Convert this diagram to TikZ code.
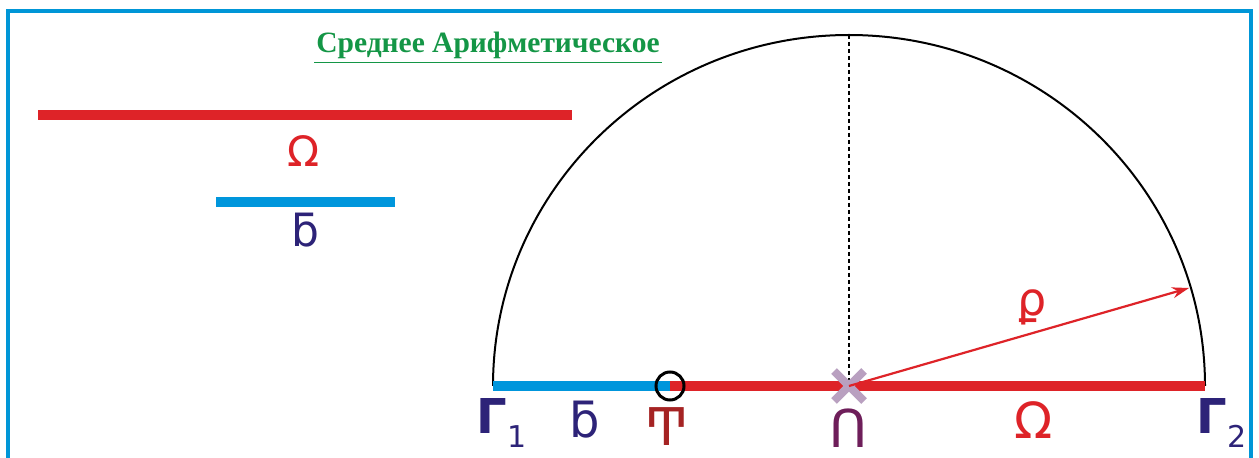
\documentclass[tikz,border=0pt]{standalone}
\usepackage{fontspec}
\setmainfont{Liberation Serif}
\newfontfamily\gl{DejaVu Sans}
\newfontfamily\glb{DejaVu Sans Bold}
\usetikzlibrary{arrows.meta,calc}
\definecolor{frameblue}{RGB}{0,150,215}
\definecolor{barred}{RGB}{222,35,40}
\definecolor{barblue}{RGB}{0,150,220}
\definecolor{navyc}{RGB}{45,35,120}
\definecolor{darkredc}{RGB}{165,35,35}
\definecolor{purplec}{RGB}{110,30,90}
\definecolor{titlegreen}{RGB}{20,150,70}
\definecolor{crossc}{RGB}{185,160,192}
\tikzset{
  redbar/.style={draw=barred,line width=10.5pt},
  bluebar/.style={draw=barblue,line width=10.5pt},
  glyph/.style={inner sep=0pt,font=\gl},
  arcline/.style={draw=black,line width=2pt},
}
\begin{document}
\begin{tikzpicture}[x=1pt,y=1pt]
\useasboundingbox (0,0) rectangle (1259,458);
\fill[white] (0,0) rectangle (1259,458);
% frame
\draw[frameblue,line width=3.5pt] (8,-5) -- (8,447) -- (1251,447) -- (1251,-5);
% title
\node[inner sep=0pt,text=titlegreen,font=\fontsize{29.5}{30}\selectfont\bfseries] (title) at (488,413) {Среднее Арифметическое};
\draw[titlegreen,line width=1.5pt] ($(title.south west)+(-2,-4)$) -- ($(title.south east)+(2,-4)$);
% left bars
\coordinate (a1) at (38,343);
\coordinate (a2) at (572,343);
\draw[redbar] (a1) -- (a2);
\node[glyph,text=barred,font=\gl\fontsize{42}{42}\selectfont] (atop) at (304,307) {Ω};
\coordinate (b1) at (216,256);
\coordinate (b2) at (395,256);
\draw[bluebar] (b1) -- (b2);
\node[glyph,text=navyc,font=\gl\fontsize{44}{44}\selectfont] (btop) at (305,228) {ƃ};
% semicircle construction
\coordinate (C) at (849,72);
\coordinate (G1) at (493,72);
\coordinate (G2) at (1205,72);
\coordinate (T) at (670,72);
\coordinate (Top) at (849,423);
\coordinate (R) at (1189,170);
\draw[arcline] (G1) arc[start angle=180,end angle=0,x radius=356,y radius=351];
\draw[black,line width=1.6pt,dash pattern=on 4pt off 3pt] (Top) -- (C);
\draw[bluebar,line cap=butt] (G1) -- (T);
\draw[redbar,line cap=butt] (T) -- (G2);
\draw[black,line width=3pt] (T) circle[radius=14];
\draw[crossc,line width=8pt] ($(C)+(-15,-15)$) -- ($(C)+(15,15)$);
\draw[crossc,line width=8pt] ($(C)+(-15,15)$) -- ($(C)+(15,-15)$);
\draw[barred,line width=2.2pt,-{Stealth[length=17pt,width=11pt]}] (C) -- (R);
\node[glyph,text=barred,font=\gl\fontsize{46}{46}\selectfont] (rho) at (1032,151) {ϼ};
% bottom labels
\node[glyph,text=navyc,font=\glb\fontsize{48}{48}\selectfont] (g1) at (502,35) {Γ\textsubscript{\gl\fontsize{30}{30}\selectfont 1}};
\node[glyph,text=navyc,font=\gl\fontsize{48}{48}\selectfont] (bbot) at (585,38) {ƃ};
\node[glyph,text=darkredc,font=\gl\fontsize{52}{52}\selectfont] (tbot) at (667,31) {Ͳ};
\node[glyph,text=purplec,font=\gl\fontsize{52}{52}\selectfont] (pbot) at (849,30) {Ո};
\node[glyph,text=barred,font=\gl\fontsize{50}{50}\selectfont] (abot) at (1034,38) {Ω};
\node[glyph,text=navyc,font=\glb\fontsize{48}{48}\selectfont] (g2) at (1222,35) {Γ\textsubscript{\gl\fontsize{30}{30}\selectfont 2}};
\end{tikzpicture}
\end{document}
